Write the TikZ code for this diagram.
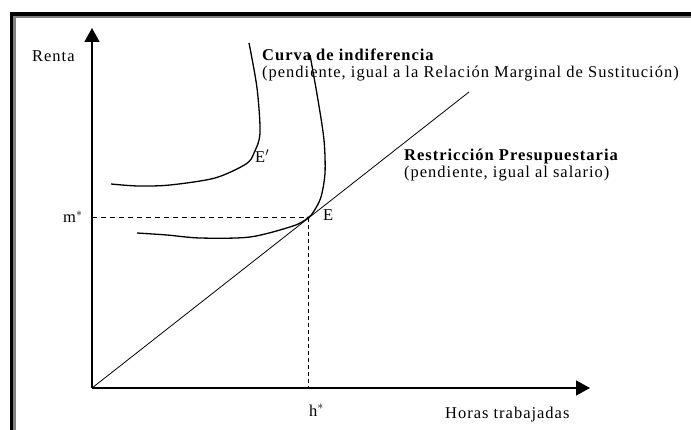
\documentclass[tikz,border=0pt]{standalone}
\usepackage{fontspec}
\setmainfont{Liberation Serif}[LetterSpace=6]
\usetikzlibrary{arrows.meta,positioning}
\definecolor{framegray}{RGB}{128,128,128}

\begin{document}
\begin{tikzpicture}[x=1pt,y=-1pt,
  every node/.style={font=\fontsize{16.5}{17}\selectfont,inner sep=0pt},
  axis/.style={-{Triangle[length=14pt,width=15pt]},line width=1.6pt},
  icurve/.style={line width=1.3pt},
  budget/.style={line width=0.8pt},
  guide/.style={line width=1pt,dash pattern=on 5pt off 4pt},
  lbl/.style={align=left,anchor=base west}]

\useasboundingbox (0,0) rectangle (691,430);
\fill[white] (0,0) rectangle (691,430);

% --- frame (shadowed border, top and left)
\draw[line width=4pt] (10,14) -- (691,14);
\draw[line width=3pt] (11.5,12) -- (11.5,430);
\draw[framegray,line width=2pt] (13,17) -- (691,17);
\draw[framegray,line width=2.5pt] (14.5,16) -- (14.5,430);

% --- axes
\coordinate (O) at (92,388);
\coordinate (ytip) at (92,28);
\coordinate (xtip) at (590,388);
\draw[axis] (O) -- (ytip);
\draw[axis] (O) -- (xtip);
\node[anchor=base west] (renta) at (32,62) {Renta};
\node[anchor=base west] (horas) at (445,418) {Horas trabajadas};

% --- budget line and optimum
\coordinate (btop) at (469,92);
\coordinate (E) at (308,218);
\draw[budget] (O) -- (btop);
\fill (E) circle (1.6pt);
\coordinate (mm) at (O |- E);
\coordinate (hh) at (O -| E);
\draw[guide] (mm) -- (E);
\draw[guide,dash pattern=on 4pt off 3pt] (E) -- (hh);
\node[anchor=base west] (mstar) at (63,223) {m$^*$};
\node[anchor=base west] (hstar) at (309,416) {h$^*$};
\node[anchor=base west] (elbl) at (323,221) {E};

% --- indifference curves
\draw[icurve] plot[smooth,tension=0.5] coordinates {(249,43) (257,88) (260,133) (254,153) (246,164)
  (215,178) (170,185) (138,186) (111,184)};
\draw[icurve] plot[smooth,tension=0.5] coordinates {(310,55) (318,100) (324,140) (325,173) (321,197)
  (314,211) (E) (293,226) (250,237) (200,238) (167,235) (137,233)};
\node[anchor=base west] (eprime) at (255,163) {E$'$};

% --- explanations
\node[lbl] (curvalbl) at (262,78) {\textbf{Curva de indiferencia}\\(pendiente, igual a la Relación Marginal de Sustitución)};
\node[lbl] (restlbl) at (404,178) {\textbf{Restricción Presupuestaria}\\(pendiente, igual al salario)};
\end{tikzpicture}
\end{document}
